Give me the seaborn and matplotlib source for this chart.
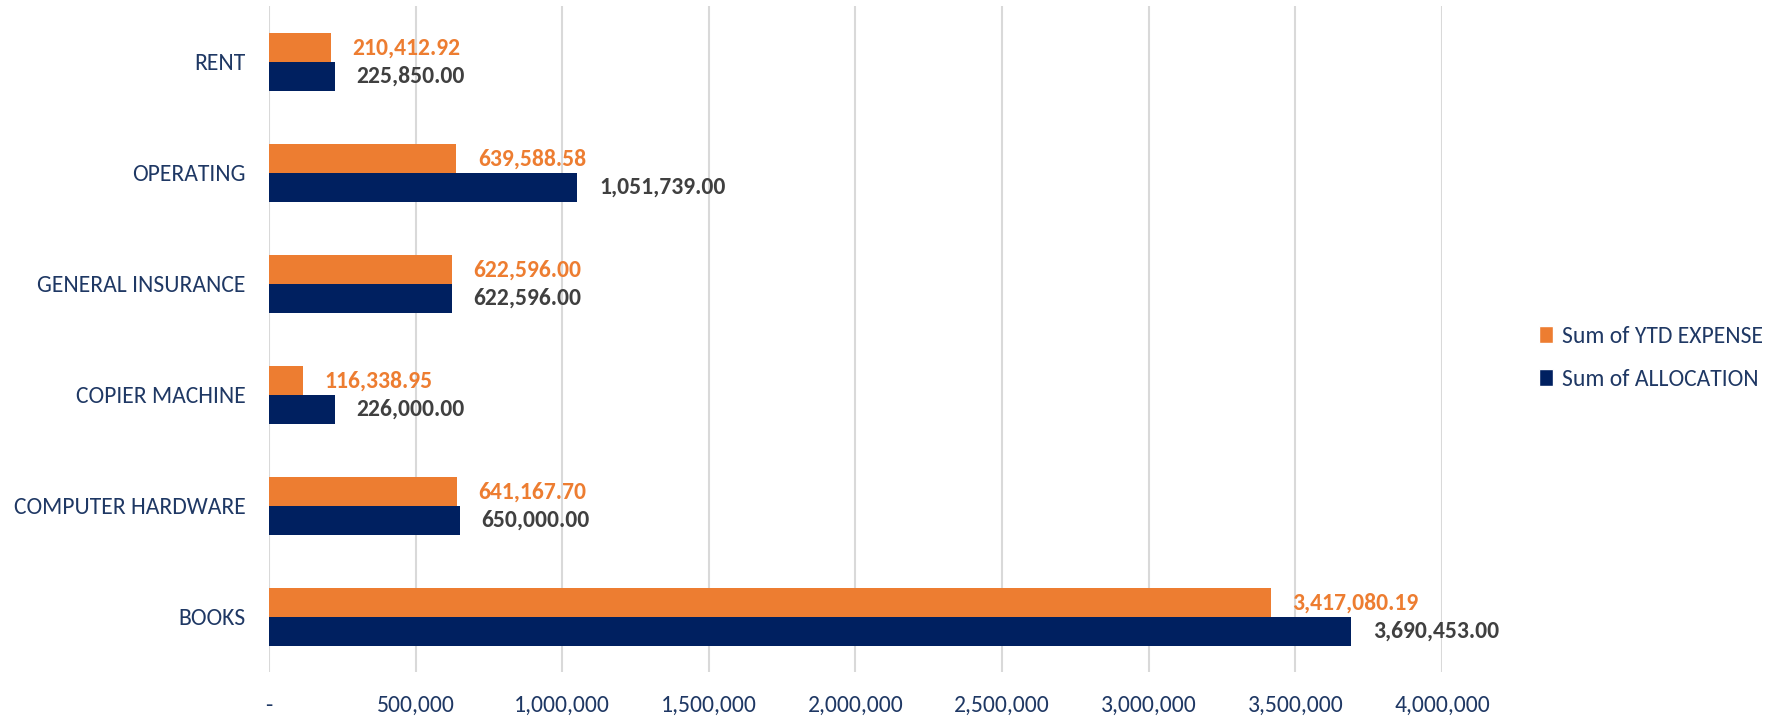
import matplotlib
matplotlib.use("Agg")
import matplotlib.pyplot as plt
import seaborn as sns
import pandas as pd
from matplotlib.ticker import FuncFormatter
from matplotlib.patches import Patch

categories = ["RENT", "OPERATING", "GENERAL INSURANCE", "COPIER MACHINE",
              "COMPUTER HARDWARE", "BOOKS"]
ytd_expense = [210412.92, 639588.58, 622596.00, 116338.95, 641167.70, 3417080.19]
allocation = [225850.00, 1051739.00, 622596.00, 226000.00, 650000.00, 3690453.00]
series_names = ["Sum of YTD EXPENSE", "Sum of ALLOCATION"]
x_ticks = [0, 500000, 1000000, 1500000, 2000000, 2500000, 3000000, 3500000, 4000000]

ORANGE = "#ED7D31"
NAVY = "#002060"
LABEL_NAVY = "#1F3864"
GRAY_TXT = "#404040"

df = pd.DataFrame({
    "category": categories * 2,
    "value": ytd_expense + allocation,
    "series": [series_names[0]] * len(categories) + [series_names[1]] * len(categories),
})

sns.set_theme(style="white")
FONT = ["Carlito", "Open Sans", "DejaVu Sans"]
plt.rcParams["font.family"] = FONT

fig = plt.figure(figsize=(17.88, 7.2), dpi=100)
ax = fig.add_axes([0.1504, 0.0660, 0.8065 - 0.1504, 0.9910 - 0.0660])

sns.barplot(data=df, y="category", x="value", hue="series", order=categories,
            hue_order=series_names, palette=[ORANGE, NAVY], orient="h",
            width=0.515, ax=ax, legend=False, saturation=1, linewidth=0)

ax.set_xlim(0, 4000000)
ax.set_xticks(x_ticks)
ax.xaxis.set_major_formatter(FuncFormatter(lambda v, p: "-" if v == 0 else f"{v:,.0f}"))
ax.grid(axis="x", color="#D9D9D9", linewidth=1.5)
ax.set_axisbelow(True)
for s in ax.spines.values():
    s.set_visible(False)
ax.set_xlabel("")
ax.set_ylabel("")
ax.tick_params(axis="both", length=0, colors=LABEL_NAVY, labelsize=17)
ax.tick_params(axis="y", pad=17)
ax.tick_params(axis="x", pad=16)

colors = [ORANGE, GRAY_TXT]
for cont, col in zip(ax.containers, colors):
    for bar in cont:
        w = bar.get_width()
        yc = bar.get_y() + bar.get_height() / 2
        ax.annotate(f"{w:,.2f}", xy=(w, yc), xytext=(15.5, 0), textcoords="offset points",
                    ha="left", va="center", color=col, fontsize=17, fontweight="bold",
                    annotation_clip=False)

handles = [Patch(facecolor=ORANGE), Patch(facecolor=NAVY)]
leg = fig.legend(handles, series_names, loc="center left", bbox_to_anchor=(0.849, 0.503),
                 frameon=False, fontsize=17, handlelength=0.6, handleheight=0.75,
                 handletextpad=0.35, labelspacing=0.95)
for t in leg.get_texts():
    t.set_color(LABEL_NAVY)

fig.savefig("out.png", dpi=100)
